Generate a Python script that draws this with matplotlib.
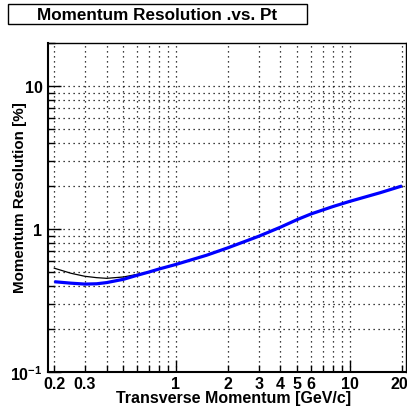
import matplotlib
matplotlib.use("Agg")
import matplotlib.pyplot as plt
from matplotlib.patches import Rectangle
from matplotlib.ticker import FixedLocator, FixedFormatter, NullFormatter
from matplotlib.transforms import offset_copy

plt.rcParams['font.family'] = ['Liberation Sans', 'DejaVu Sans']
plt.rcParams['mathtext.fontset'] = 'custom'
plt.rcParams['mathtext.rm'] = 'Liberation Sans:bold'
plt.rcParams['mathtext.bf'] = 'Liberation Sans:bold'

# Transverse momentum points [GeV/c]
pt = [0.2, 0.25, 0.3, 0.35, 0.4, 0.5, 0.6, 0.7, 0.8, 1.0, 1.5, 2.0, 3.0,
      4.0, 5.0, 6.0, 8.0, 10.0, 15.0, 20.0]
# Resolution [%], full calculation (thick blue)
res_blue = [0.428, 0.418, 0.412, 0.414, 0.422, 0.445, 0.475, 0.500, 0.525,
            0.565, 0.655, 0.740, 0.890, 1.030, 1.165, 1.275, 1.435, 1.560,
            1.795, 2.000]
# Resolution [%], including multiple scattering term at low pt (thin black)
res_black = [0.532, 0.490, 0.467, 0.457, 0.452, 0.462, 0.482, 0.501, 0.525,
             0.565, 0.655, 0.740, 0.890, 1.030, 1.165, 1.275, 1.435, 1.560,
             1.795, 2.000]

x_major = [1, 10]
x_minor = [0.2, 0.3, 0.4, 0.5, 0.6, 0.7, 0.8, 0.9,
           2, 3, 4, 5, 6, 7, 8, 9, 20]
x_tick_pos = [0.2, 0.3, 1, 2, 3, 4, 5, 6, 10, 20]
x_tick_lab = ['0.2', '0.3', '1', '2', '3', '4', '5', '6', '10', '20']
y_major = [0.1, 1, 10]
y_major_lab = [r'$10^{-1}$', '1', '10']
y_minor = [0.2, 0.3, 0.4, 0.5, 0.6, 0.7, 0.8, 0.9,
           2, 3, 4, 5, 6, 7, 8, 9, 20]

W, H = 407, 410
fig = plt.figure(figsize=(W / 100, H / 100), dpi=100)
ax = fig.add_axes([48 / W, 1 - 373 / H, (406 - 48) / W, (373 - 44) / H])
ax.set_xscale('log')
ax.set_yscale('log')
ax.set_xlim(0.184, 21.1)
ax.set_ylim(0.1, 20)

grid_kw = dict(color='black', linewidth=0.9, linestyle=(0, (1, 3)), zorder=1)
for v in x_major + x_minor:
    ax.axvline(v, **grid_kw)
for v in y_major[1:] + y_minor[:-1]:
    ax.axhline(v, **grid_kw)

ax.plot(pt, res_black, color='black', linewidth=0.9, zorder=3)
ax.plot(pt, res_blue, color='#0000ff', linewidth=2.3, zorder=4,
        solid_capstyle='butt')

ax.xaxis.set_major_locator(FixedLocator(x_major))
ax.xaxis.set_minor_locator(FixedLocator(x_minor))
ax.xaxis.set_major_formatter(NullFormatter())
ax.xaxis.set_minor_formatter(NullFormatter())
ax.yaxis.set_major_locator(FixedLocator(y_major))
ax.yaxis.set_minor_locator(FixedLocator(y_minor))
ax.yaxis.set_major_formatter(FixedFormatter(y_major_lab))
ax.yaxis.set_minor_formatter(NullFormatter())

ax.tick_params(which='major', direction='in', length=9, width=1.0,
               top=False, right=False, labelsize=11.5, pad=4)
ax.tick_params(which='minor', direction='in', length=5, width=1.0,
               top=False, right=False)
for lab in ax.get_yticklabels():
    lab.set_fontweight('bold')

xlab_tr = ax.get_xaxis_transform()
for xv, txt in zip(x_tick_pos, x_tick_lab):
    tr = xlab_tr
    if txt == '20':
        tr = offset_copy(xlab_tr, fig=fig, x=-3, y=0, units='dots')
    ax.text(xv, -0.012, txt, transform=tr,
            ha='center', va='top', fontsize=11.5, fontweight='bold')

for s in ax.spines.values():
    s.set_linewidth(1.0)
ax.spines['left'].set_linewidth(1.5)
ax.spines['bottom'].set_linewidth(1.5)

fig.text(234 / W, 1 - 399 / H, 'Transverse Momentum [GeV/c]',
         ha='center', va='center', fontsize=11.5, fontweight='bold')
fig.text(20 / W, 1 - 198 / H, 'Momentum Resolution [%]', rotation=90,
         ha='center', va='center', fontsize=10.9, fontweight='bold')

# title box
fig.patches.append(Rectangle((8 / W, 1 - 25.3 / H), (307 - 8) / W,
                             (25.3 - 4.7) / H, transform=fig.transFigure,
                             facecolor='white', edgecolor='black',
                             linewidth=1.0))
fig.text(157.5 / W, 1 - 16 / H, 'Momentum Resolution .vs. Pt',
         ha='center', va='center', fontsize=12.3, fontweight='bold')

fig.savefig('out.png', dpi=100)
